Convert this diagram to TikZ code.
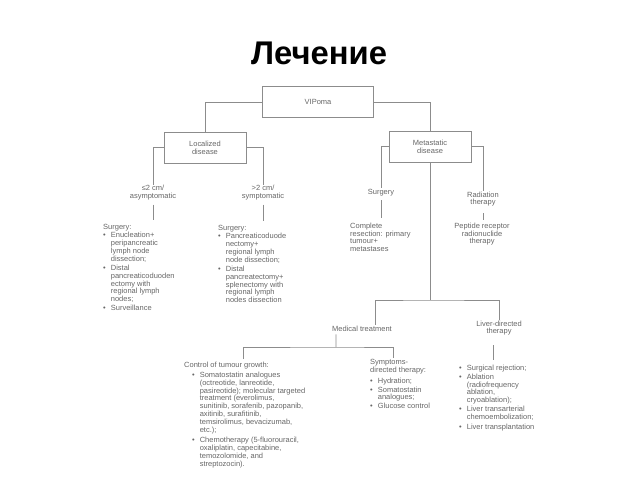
\documentclass[tikz,border=0pt]{standalone}
\usepackage{fontspec}
\setmainfont{Liberation Sans}
\newcommand{\bl}{\makebox[6.5pt][l]{\textbullet}}
\newcommand{\ct}{\hspace*{6.5pt}}
\newcommand{\ind}{\hspace*{6.8pt}}
\begin{document}
\begin{tikzpicture}[x=0.03cm,y=-0.03cm,
  txt/.style={font=\fontsize{6.4}{6.7}\selectfont,text=black!60,inner sep=0pt,align=left},
  lbl/.style={txt,align=center,inner sep=0.5pt},
  box/.style={lbl,draw=black!45,line width=0.7pt,minimum width=2.46cm,minimum height=0.93cm},
  link/.style={draw=black!45,line width=0.7pt},
  stub/.style={link,shorten <=3pt,shorten >=4pt}]
  \useasboundingbox (0,0) rectangle (640,480);
  % Title
  \node[font=\fontsize{28}{30}\selectfont\bfseries] (title) at (319,53.5) {Лечение};
  % Boxes
  \node[box,minimum width=3.33cm] (vip) at (318,102) {VIPoma};
  \node[box] (loc) at (205,147.5) {Localized\\disease};
  \node[box] (met) at (430,146.5) {Metastatic\\disease};
  % Branch labels
  \node[lbl] (small) at (153,192.8) {≤2 cm/\\asymptomatic};
  \node[lbl] (big) at (263,192.8) {>2 cm/\\symptomatic};
  \node[lbl] (surg) at (381,192.7) {Surgery};
  \node[lbl] (rad) at (483,199) {Radiation\\therapy};
  \node[lbl] (med) at (362,328.5) {Medical treatment};
  \node[lbl] (livlab) at (499,328) {Liver-directed\\therapy};
  % Localized disease
  \node[txt,anchor=north west] (lsurg) at (103,224.5) {Surgery:\\%
    \bl Enucleation+\\\ct peripancreatic\\\ct lymph node\\\ct dissection;\\[1pt]%
    \bl Distal\\\ct pancreaticoduoden\\\ct ectomy with\\\ct regional lymph\\\ct nodes;\\[1pt]%
    \bl Surveillance};
  \node[txt,anchor=north west] (rsurg) at (218,225.5) {Surgery:\\%
    \bl Pancreaticoduode\\\ct nectomy+\\\ct regional lymph\\\ct node dissection;\\[1pt]%
    \bl Distal\\\ct pancreatectomy+\\\ct splenectomy with\\\ct regional lymph\\\ct nodes dissection};
  % Metastatic disease
  \node[txt,anchor=north west] (msurg) at (350,222.5) {Complete\\resection: primary\\tumour+\\metastases};
  \node[txt,align=center,anchor=north] (prrt) at (482,222.5) {Peptide receptor\\radionuclide\\therapy};
  \node[txt,anchor=north west] (ctrl) at (184,361.5) {Control of tumour growth:\\[2pt]%
    \ind\bl Somatostatin analogues\\\ind\ct (octreotide, lanreotide,\\\ind\ct pasireotide); molecular targeted\\%
    \ind\ct treatment (everolimus,\\\ind\ct sunitinib, sorafenib, pazopanib,\\\ind\ct axitinib, surafitinib,\\%
    \ind\ct temsirolimus, bevacizumab,\\\ind\ct etc.);\\[2pt]%
    \ind\bl Chemotherapy (5-fluorouracil,\\\ind\ct oxaliplatin, capecitabine,\\\ind\ct temozolomide, and\\%
    \ind\ct streptozocin).};
  \node[txt,anchor=north west] (symp) at (370,359.5) {Symptoms-\\directed therapy:\\[2pt]%
    \bl Hydration;\\[1pt]\bl Somatostatin\\\ct analogues;\\[1pt]\bl Glucose control};
  \node[txt,anchor=north west] (liverl) at (459,364.5) {\bl Surgical rejection;\\[1pt]%
    \bl Ablation\\\ct (radiofrequency\\\ct ablation,\\\ct cryoablation);\\[1pt]%
    \bl Liver transarterial\\\ct chemoembolization;\\[1.5pt]%
    \bl Liver transplantation};
  % Connectors
  \draw[link] (vip.west) -| (loc.north);
  \draw[link] (vip.east) -| (met.north);
  \draw[link] (loc.west) -| (small.north);
  \draw[link] (loc.east) -| (big.north);
  \draw[link] (met.west) -| (surg.north);
  \draw[link] (met.east) -| (rad.north);
  \draw[stub] (small.south) -- (small.south |- lsurg.north);
  \draw[stub] (big.south) -- (big.south |- rsurg.north);
  \draw[stub] (surg.south) -- (surg.south |- msurg.north);
  \draw[stub,shorten <=5pt,shorten >=2pt] (rad.south) -- (rad.south |- prrt.north);
  \coordinate (msplit) at (430,300);
  \draw[link] (met.south) -- (msplit);
  \draw[link] ([xshift=0.39cm]med.north) |- (msplit) -| (livlab.north);
  % Medical treatment branches
  \coordinate (mdrop) at (336,347);
  \coordinate (ctrlin) at (243,359);
  \coordinate (sympin) at (393,358);
  \draw[link,shorten <=2pt] ([xshift=-0.78cm]med.south) -- (mdrop);
  \draw[link] (ctrlin) |- (mdrop) -| (sympin);
  \draw[stub,shorten <=7.5pt] ([xshift=-0.18cm]livlab.south) -- ([xshift=-0.18cm]livlab.south |- liverl.north);
\end{tikzpicture}
\end{document}
